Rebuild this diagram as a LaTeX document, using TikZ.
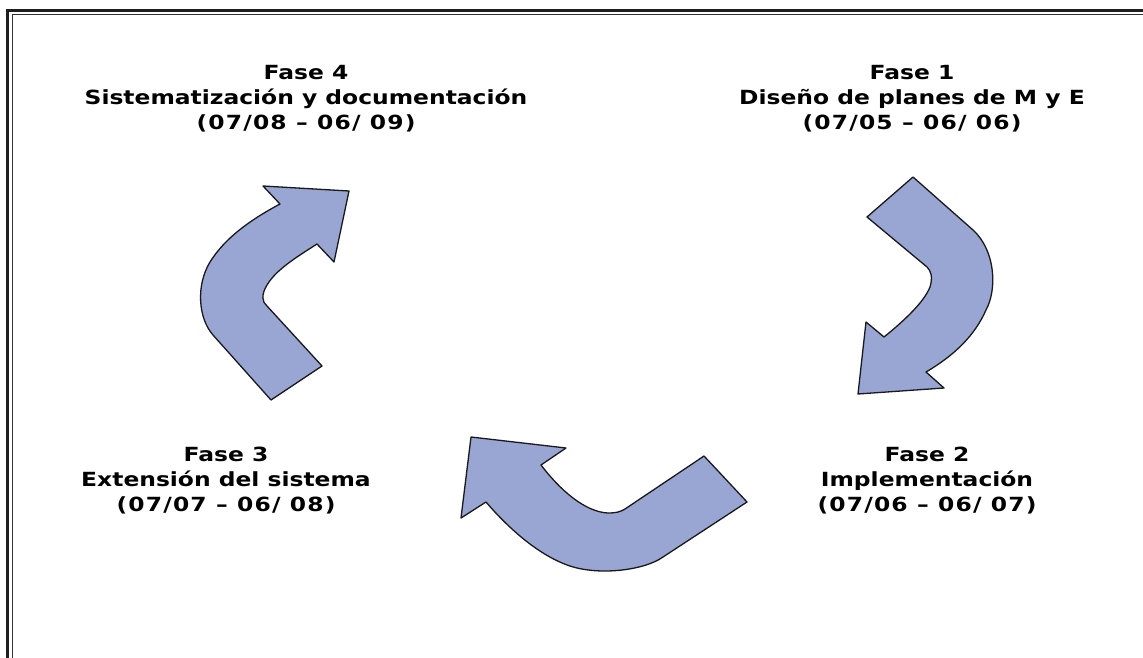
\documentclass[tikz,border=0pt]{standalone}
\usepackage{fontspec}
\setmainfont[FakeStretch=1.2]{DejaVu Sans}
% date lines are set slightly tracked
\newcommand{\dateline}[1]{{\addfontfeature{LetterSpace=6}#1}}
\begin{document}
\begin{tikzpicture}[x=1pt,y=-1pt,
  phase/.style={align=center,font=\bfseries\fontsize{19.5}{25}\selectfont,inner sep=0pt},
  bent/.style={draw=black!90,line width=1.3pt,line join=round,fill=arrowfill}]
\definecolor{arrowfill}{RGB}{153,165,211}
\useasboundingbox (0,0) rectangle (1143,658);
\fill[white] (0,0) rectangle (1143,658);

% frame (double rule, top and left)
\draw[line width=3.3pt,black!88] (7.8,658) -- (7.8,10.7) -- (1143,10.7);
\draw[line width=1.5pt,black!80] (12.5,658) -- (12.5,14.5) -- (1143,14.5);

% phase labels
\node[phase] (f4) at (306,99) {Fase 4\\Sistematización y documentación\\\dateline{(07/08 – 06/ 09)}};
\node[phase] (f1) at (912,99) {Fase 1\\Diseño de planes de M y E\\\dateline{(07/05 – 06/ 06)}};
\node[phase] (f3) at (226,481) {Fase 3\\Extensión del sistema\\\dateline{(07/07 – 06/ 08)}};
\node[phase] (f2) at (927,481) {Fase 2\\Implementación\\\dateline{(07/06 – 06/ 07)}};

% bent arrow: Fase 1 -> Fase 2
\draw[bent] (867,217) -- (913,177) -- (973,230)
  .. controls (996,251) and (997,290) .. (986,310)
  .. controls (975,335) and (955,355) .. (926,372)
  -- (944,388) -- (858,394) -- (866,322) -- (884,337)
  .. controls (905,320) and (924,302) .. (930,287)
  .. controls (933,277) and (931,271) .. (927,267) -- cycle;

% bent arrow: Fase 2 -> Fase 3
\draw[bent] (704,456) -- (747,502) -- (663,557)
  .. controls (645,570) and (600,576) .. (570,566)
  .. controls (540,556) and (510,530) .. (486,502)
  -- (461,518) -- (471,437) -- (566,448) -- (541,465)
  .. controls (560,490) and (585,512) .. (608,513)
  .. controls (616,513) and (620,512) .. (625,509) -- cycle;

% bent arrow: Fase 3 -> Fase 4
\draw[bent] (271,400) -- (213,335)
  .. controls (198,318) and (196,285) .. (210,262)
  .. controls (225,238) and (250,220) .. (280,204)
  -- (263,186) -- (349,191) -- (334,262) -- (317,244)
  .. controls (295,258) and (276,270) .. (267,285)
  .. controls (261,295) and (262,302) .. (267,306) -- (322,366) -- cycle;
\end{tikzpicture}
\end{document}
